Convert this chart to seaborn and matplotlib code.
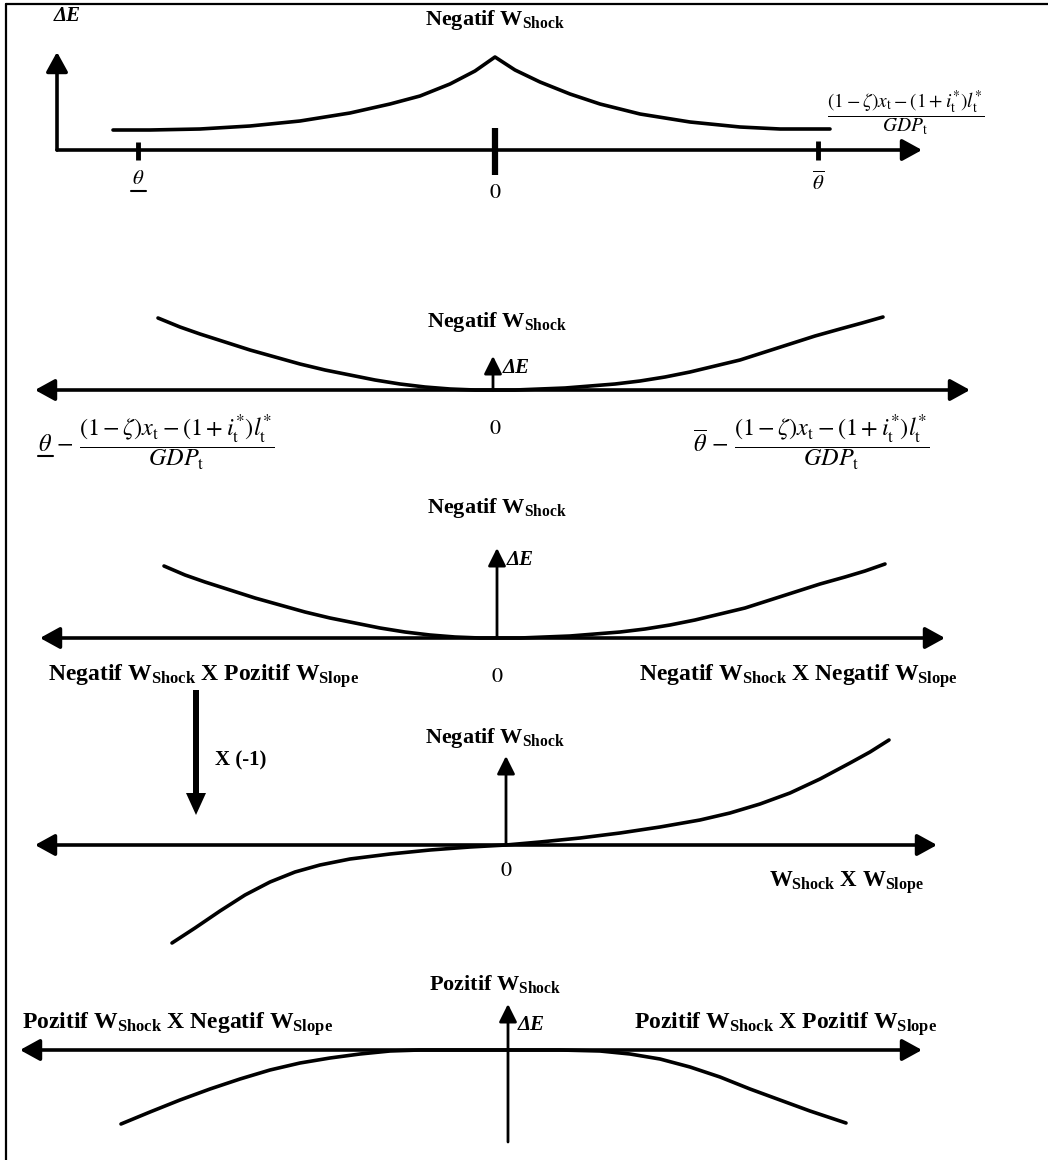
import matplotlib
matplotlib.use("Agg")
import matplotlib.pyplot as plt
import seaborn as sns

sns.set_theme(style="white")
plt.rcParams["font.family"] = ["Liberation Serif", "DejaVu Serif"]
plt.rcParams["mathtext.fontset"] = "custom"
plt.rcParams["mathtext.rm"] = "Liberation Serif:bold"
plt.rcParams["mathtext.it"] = "Liberation Serif:bold"
plt.rcParams["mathtext.bf"] = "Liberation Serif:bold"

# ---- curve samples for each panel (diagram units, x to the right, y downward) ----
peak_x = [113, 150, 200, 250, 300, 350, 390, 420, 450, 475, 495,
          515, 540, 570, 600, 640, 690, 740, 780, 830]
peak_y = [130, 130, 129, 126, 121, 113, 104, 96, 84, 71, 57,
          70, 82, 94, 104, 114, 122, 127, 129, 129]

u1_x = [158, 180, 200, 225, 250, 275, 300, 325, 350, 375, 400, 425, 450, 475, 493,
        515, 540, 565, 590, 615, 640, 665, 690, 715, 740, 765, 790, 815, 840, 862, 883]
u1_y = [318, 327, 334, 342, 350, 357, 364, 370, 375, 380, 384, 387, 389, 390, 390,
        390, 389, 388, 386, 384, 381, 377, 372, 366, 360, 352, 344, 336, 329, 323, 317]

u2_x = [164, 185, 205, 230, 255, 280, 305, 330, 355, 380, 405, 430, 455, 480, 497,
        520, 545, 570, 595, 620, 645, 670, 695, 720, 745, 770, 795, 820, 845, 865, 885]
u2_y = [566, 575, 582, 590, 598, 605, 612, 618, 623, 628, 632, 635, 637, 638, 638,
        638, 637, 636, 634, 632, 629, 625, 620, 614, 608, 600, 592, 584, 577, 571, 564]

s_x = [172, 195, 220, 245, 270, 295, 320, 350, 390, 430, 470, 506,
       540, 580, 620, 660, 700, 730, 760, 790, 820, 850, 870, 889]
s_y = [943, 928, 911, 895, 882, 872, 865, 859, 854, 850, 847, 845,
       842, 838, 833, 827, 820, 813, 804, 793, 779, 763, 752, 740]

cap_x = [121, 150, 180, 210, 240, 270, 300, 330, 360, 390, 420, 508,
         560, 600, 630, 660, 690, 720, 750, 780, 810, 846]
cap_y = [1124, 1112, 1100, 1089, 1079, 1070, 1063, 1058, 1054, 1051, 1050, 1050,
         1050, 1051, 1054, 1059, 1067, 1077, 1089, 1100, 1111, 1123]

W, H = 1048, 1160
fig = plt.figure(figsize=(W / 100, H / 100), dpi=100)
ax = fig.add_axes([0, 0, 1, 1])
ax.set_xlim(0, W)
ax.set_ylim(H, 0)
ax.axis("off")

LW = 2.6
K = "black"

# frame lines along top and left edge
ax.plot([6, W], [4, 4], color=K, lw=1.6)
ax.plot([6, 6], [4, H], color=K, lw=1.6)


def arrow(x0, y0, x1, y1, style="-|>", lw=LW, hl=1.0, hw=0.55):
    ax.annotate("", xy=(x1, y1), xytext=(x0, y0),
                arrowprops=dict(arrowstyle=f"{style},head_length={hl},head_width={hw}",
                                lw=lw, color=K, shrinkA=0, shrinkB=0))


def curve(xs, ys):
    sns.lineplot(x=xs, y=ys, sort=False, estimator=None, color=K, lw=LW, ax=ax)


BOLD = dict(fontweight="bold", color=K, ha="center", va="center")
FRAC = r"\dfrac{(1-\zeta)x_{\mathrm{t}}-(1+i_{\mathrm{t}}^{*})l_{\mathrm{t}}^{*}}{GDP_{\mathrm{t}}}"


def mathtext(x, y, s, size=13, ha="center"):
    return ax.text(x, y, s, fontsize=size, ha=ha, va="center", color=K,
                   math_fontfamily="stix")


def delta_e(x, y):
    ax.text(x, y, "ΔE", fontsize=15, fontstyle="italic", fontweight="bold",
            color=K, ha="left", va="center")


# ---------------- panel 1 ----------------
arrow(57, 150, 57, 52)
arrow(57, 150, 922, 150)
curve(peak_x, peak_y)
for tx, y0, y1, w in [(138, 142, 160, 3.5), (495, 128, 175, 4.5), (818, 141, 160, 3.5)]:
    ax.plot([tx, tx], [y0, y1], color=K, lw=w, solid_capstyle="butt")
delta_e(54, 16)
ax.text(495, 20, r"Negatif $W_{Shock}$", fontsize=16, **BOLD)
mathtext(906, 113, "$" + FRAC + "$", size=14)
mathtext(138, 180, r"$\theta$", size=15)
ax.plot([131, 146], [191, 191], color=K, lw=1.5)
mathtext(495, 194, r"$0$", size=16)
mathtext(818, 183, r"$\overline{\theta}$", size=15)

# ---------------- panel 2 ----------------
arrow(493, 390, 493, 356, lw=2.0, hl=0.9, hw=0.45)
arrow(35, 390, 970, 390, style="<|-|>")
curve(u1_x, u1_y)
ax.text(497, 322, r"Negatif $W_{Shock}$", fontsize=16, **BOLD)
delta_e(503, 368)
mathtext(495, 430, r"$0$", size=16)
mathtext(38, 443, r"$\theta\,-\," + FRAC + "$", size=17.5, ha="left")
ax.plot([38, 53], [456, 456], color=K, lw=1.5)
mathtext(693, 443, r"$\overline{\theta}\,-\," + FRAC + "$", size=17.5, ha="left")

# ---------------- panel 3 ----------------
arrow(497, 638, 497, 548, lw=2.0, hl=0.9, hw=0.45)
arrow(40, 638, 945, 638, style="<|-|>")
curve(u2_x, u2_y)
ax.text(497, 508, r"Negatif $W_{Shock}$", fontsize=16, **BOLD)
delta_e(507, 560)
mathtext(497, 678, r"$0$", size=16)
ax.text(204, 676, r"Negatif $W_{Shock}$ X Pozitif $W_{Slope}$", fontsize=17, **BOLD)
ax.text(798, 676, r"Negatif $W_{Shock}$ X Negatif $W_{Slope}$", fontsize=17, **BOLD)

# multiplication by -1 between panels 3 and 4
ax.arrow(196, 690, 0, 125, width=6, head_width=20, head_length=22,
         length_includes_head=True, color=K, lw=0)
ax.text(241, 760, "X (-1)", fontsize=15, **BOLD)

# ---------------- panel 4 ----------------
arrow(506, 845, 506, 756, lw=2.0, hl=0.9, hw=0.45)
arrow(35, 845, 937, 845, style="<|-|>")
curve(s_x, s_y)
ax.text(495, 738, r"Negatif $W_{Shock}$", fontsize=16, **BOLD)
mathtext(506, 871, r"$0$", size=16)
ax.text(846, 883, r"$W_{Shock}$ X $W_{Slope}$", fontsize=16.5, **BOLD)

# ---------------- panel 5 ----------------
arrow(508, 1142, 508, 1004, lw=2.0, hl=0.9, hw=0.45)
arrow(20, 1050, 922, 1050, style="<|-|>")
curve(cap_x, cap_y)
ax.text(495, 984, r"Pozitif $W_{Shock}$", fontsize=16, **BOLD)
delta_e(518, 1025)
ax.text(178, 1024, r"Pozitif $W_{Shock}$ X Negatif $W_{Slope}$", fontsize=17, **BOLD)
ax.text(786, 1024, r"Pozitif $W_{Shock}$ X Pozitif $W_{Slope}$", fontsize=17, **BOLD)

fig.savefig("out.png", dpi=100, facecolor="white")
